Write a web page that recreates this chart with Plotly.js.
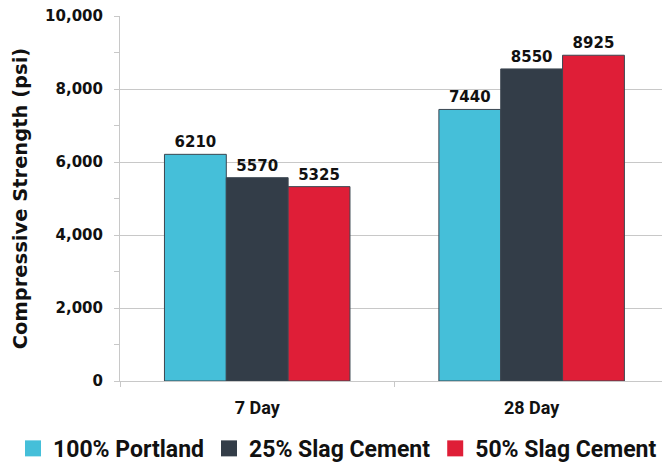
<!DOCTYPE html>
<html>
<head>
<meta charset="utf-8">
<script src="https://cdn.plot.ly/plotly-3.0.1.min.js"></script>
<style>html,body{margin:0;padding:0;background:#fff;overflow:hidden;}#wrap{width:662px;height:464px;overflow:hidden;}#chart{width:662px;height:471px;}</style>
</head>
<body>
<div id="wrap"><div id="chart"></div></div>
<script>
var categories = ["7 Day", "28 Day"];
var seriesNames = ["100% Portland", "25% Slag Cement", "50% Slag Cement"];
var portland = [6210, 7440];
var slag25 = [5570, 8550];
var slag50 = [5325, 8925];
var yTickVals = [0, 2000, 4000, 6000, 8000, 10000];
var yTickText = ["0", "2,000", "4,000", "6,000", "8,000", "10,000"];

var colors = ["#45BFD9", "#333D48", "#DF1E37"];
var values = [portland, slag25, slag50];
var narrow = "Roboto, 'Liberation Sans', sans-serif";
var wide = "'DejaVu Sans', Arial, sans-serif";

var traces = [];
values.forEach(function (v, i) {
  traces.push({
    type: "bar",
    x: categories,
    y: v,
    name: seriesNames[i],
    showlegend: false,
    marker: { color: colors[i], line: { color: "#3b4650", width: 1 } },
    text: v.map(String),
    textposition: "outside",
    cliponaxis: false,
    textfont: { family: wide, size: 15, color: "#111", weight: "bold" },
    hoverinfo: "x+y"
  });
});
values.forEach(function (v, i) {
  traces.push({
    type: "scatter",
    mode: "markers",
    x: categories,
    y: v.map(function () { return null; }),
    name: seriesNames[i],
    showlegend: true,
    marker: { color: colors[i], symbol: "square", size: 16 }
  });
});

var layout = {
  width: 662,
  height: 471,
  margin: { l: 120, r: 0, t: 16, b: 89.5, pad: 0 },
  paper_bgcolor: "#fff",
  plot_bgcolor: "#fff",
  barmode: "group",
  bargap: 0.324,
  bargroupgap: 0,
  xaxis: {
    type: "category",
    range: [-0.5, 1.475],
    showline: true,
    linecolor: "#c8c8c8",
    linewidth: 1,
    ticks: "outside",
    tickson: "boundaries",
    ticklen: 5,
    tickcolor: "#c8c8c8",
    showgrid: false,
    tickfont: { family: narrow, size: 18, color: "#111", weight: "bold" },
    ticklabelstandoff: 10
  },
  yaxis: {
    range: [0, 10000],
    tickvals: yTickVals,
    ticktext: yTickText,
    showline: true,
    linecolor: "#c8c8c8",
    linewidth: 1,
    ticks: "outside",
    ticklen: 5,
    tickcolor: "#c8c8c8",
    showgrid: true,
    gridcolor: "#c8c8c8",
    gridwidth: 1,
    zeroline: false,
    minor: { dtick: 1000, tick0: 0, ticks: "outside", ticklen: 5, tickcolor: "#c8c8c8", showgrid: false },
    tickfont: { family: wide, size: 15, color: "#111", weight: "bold" },
    ticklabelstandoff: 8,
    title: { text: "Compressive Strength (psi)", font: { family: wide, size: 19.5, color: "#111", weight: "bold" }, standoff: 12 },
    automargin: false
  },
  legend: {
    orientation: "h",
    x: -0.19,
    xanchor: "left",
    y: -0.1847,
    yanchor: "middle",
    font: { family: narrow, size: 23, color: "#111", weight: "bold" },
    itemwidth: 30,
    bgcolor: "rgba(0,0,0,0)"
  },
  showlegend: true
};

Plotly.newPlot("chart", traces, layout, { displayModeBar: false, staticPlot: true });
</script>
</body>
</html>
